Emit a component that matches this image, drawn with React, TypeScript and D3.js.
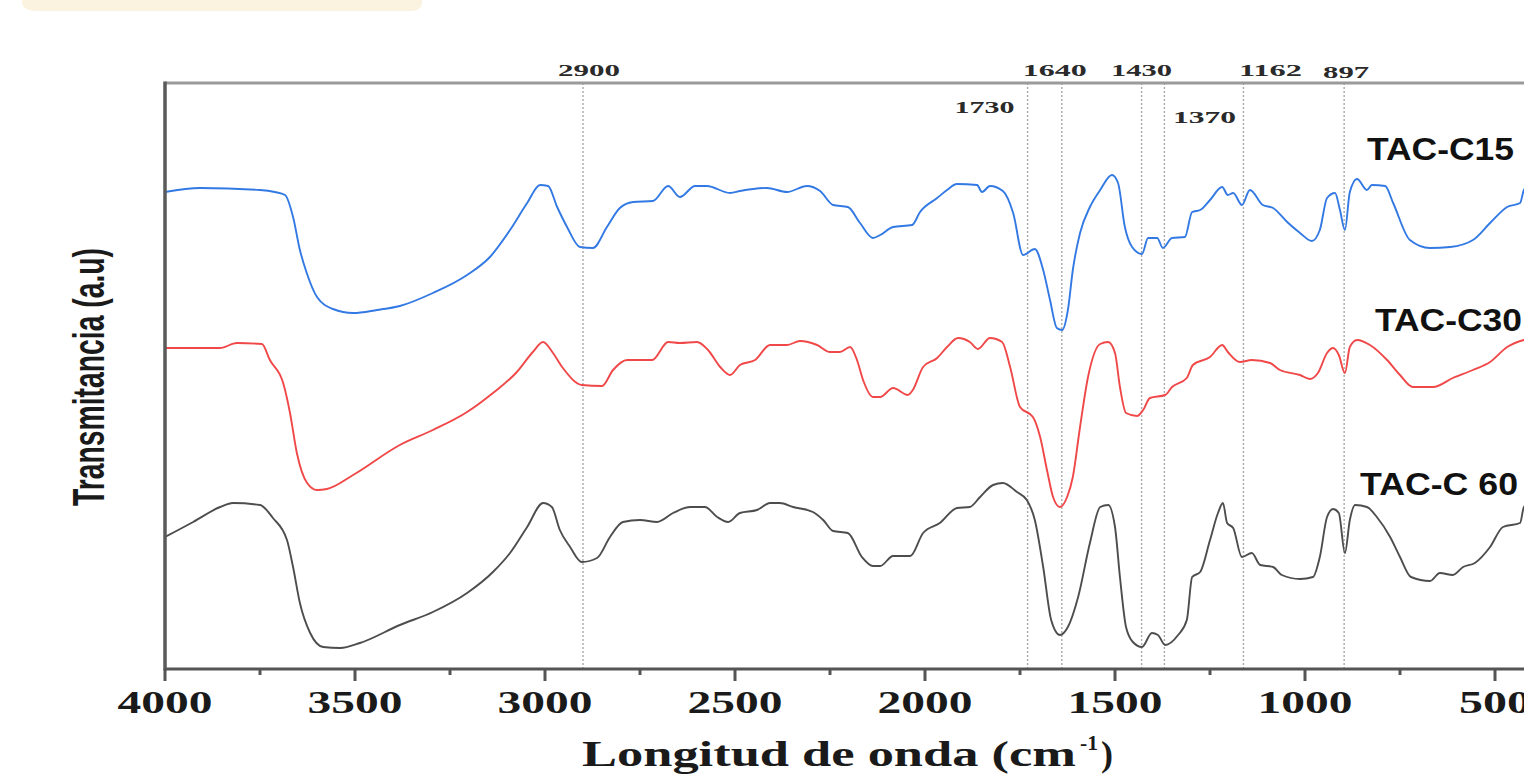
import * as d3 from 'd3';

// FTIR spectra (wavenumber cm-1, transmittance a.u.)
const tacC15: [number, number][] = [
  [4000, 476], [3908, 480], [3750, 478], [3711, 476], [3684, 473], [3663, 451], [3645, 418],
  [3627, 395], [3600, 371], [3558, 359], [3505, 355], [3442, 358], [3382, 362], [3295, 375],
  [3205, 393], [3145, 411], [3092, 438], [3047, 465], [3013, 483], [2992, 482], [2968, 461],
  [2942, 441], [2908, 421], [2874, 420], [2837, 441], [2803, 460], [2768, 466], [2716, 467],
  [2676, 482], [2645, 471], [2605, 482], [2574, 482], [2513, 475], [2487, 477], [2416, 480],
  [2363, 476], [2311, 482], [2276, 477], [2242, 463], [2203, 461], [2171, 445], [2137, 430],
  [2118, 433], [2084, 441], [2034, 443], [2013, 456], [1968, 470], [1942, 478], [1916, 484],
  [1863, 483], [1850, 476], [1829, 482], [1795, 477], [1768, 455], [1742, 413], [1711, 419],
  [1689, 398], [1671, 368], [1653, 340], [1639, 338], [1624, 358], [1611, 398], [1592, 435],
  [1566, 461], [1539, 478], [1508, 493], [1492, 485], [1474, 441], [1455, 421], [1429, 414],
  [1413, 430], [1389, 430], [1374, 420], [1350, 430], [1316, 431], [1297, 456], [1276, 458],
  [1250, 468], [1218, 481], [1203, 473], [1189, 475], [1166, 463], [1145, 478], [1111, 463],
  [1084, 460], [1047, 446], [1013, 435], [982, 427], [961, 438], [942, 470], [921, 475],
  [908, 458], [895, 438], [882, 476], [863, 489], [837, 478], [824, 483], [789, 482],
  [768, 465], [724, 428], [671, 420], [618, 421], [558, 428], [513, 445], [468, 461],
  [434, 465], [424, 478], [400, 488],
];

const tacC30: [number, number][] = [
  [4000, 320], [3855, 320], [3811, 325], [3745, 324], [3724, 308], [3689, 285], [3671, 255],
  [3653, 215], [3626, 185], [3600, 178], [3574, 179], [3505, 193], [3382, 223], [3295, 238],
  [3205, 256], [3137, 275], [3074, 296], [3032, 316], [3005, 326], [2979, 315], [2953, 300],
  [2903, 283], [2850, 282], [2821, 298], [2784, 308], [2718, 308], [2676, 326], [2645, 325],
  [2600, 326], [2571, 318], [2539, 301], [2513, 293], [2487, 303], [2447, 308], [2408, 323],
  [2363, 323], [2329, 327], [2284, 323], [2250, 316], [2224, 316], [2197, 321], [2179, 308],
  [2163, 288], [2137, 271], [2118, 271], [2084, 280], [2045, 273], [2032, 278], [2005, 301],
  [1968, 310], [1942, 321], [1913, 330], [1882, 326], [1861, 319], [1829, 330], [1797, 326],
  [1776, 301], [1750, 261], [1716, 251], [1697, 231], [1679, 198], [1663, 171], [1645, 161],
  [1626, 171], [1611, 191], [1592, 241], [1571, 291], [1539, 324], [1518, 326], [1500, 315],
  [1487, 281], [1471, 255], [1442, 252], [1426, 258], [1408, 270], [1368, 273], [1350, 281],
  [1311, 290], [1295, 303], [1250, 311], [1218, 323], [1203, 316], [1171, 306], [1140, 308],
  [1092, 305], [1066, 298], [1013, 293], [987, 289], [966, 295], [942, 315], [926, 320],
  [911, 313], [895, 295], [882, 321], [863, 328], [829, 323], [784, 308], [750, 293],
  [716, 281], [663, 281], [611, 290], [558, 298], [513, 306], [468, 321], [424, 328], [400, 330],
];

const tacC60: [number, number][] = [
  [4000, 131], [3926, 146], [3855, 161], [3821, 165], [3750, 163], [3716, 150], [3679, 128],
  [3663, 101], [3645, 65], [3618, 35], [3584, 21], [3539, 20], [3487, 25], [3382, 43],
  [3295, 56], [3205, 75], [3137, 96], [3092, 115], [3047, 141], [3005, 165], [2982, 161],
  [2961, 138], [2934, 121], [2903, 106], [2863, 110], [2829, 131], [2795, 146], [2750, 148],
  [2705, 146], [2663, 155], [2618, 161], [2579, 161], [2547, 151], [2518, 146], [2487, 155],
  [2442, 158], [2408, 165], [2382, 165], [2347, 161], [2295, 156], [2268, 148], [2242, 137],
  [2203, 135], [2166, 111], [2137, 102], [2118, 102], [2084, 112], [2039, 112], [2005, 135],
  [1961, 145], [1916, 160], [1882, 161], [1855, 171], [1821, 183], [1795, 185], [1758, 176],
  [1732, 168], [1711, 148], [1689, 101], [1668, 48], [1645, 33], [1624, 41], [1597, 71],
  [1566, 125], [1539, 161], [1518, 163], [1500, 141], [1487, 91], [1471, 41], [1453, 26],
  [1429, 21], [1403, 35], [1387, 33], [1368, 23], [1334, 33], [1311, 48], [1297, 91],
  [1276, 96], [1250, 128], [1229, 155], [1216, 165], [1205, 145], [1189, 140], [1166, 111],
  [1140, 115], [1118, 103], [1084, 101], [1061, 93], [1013, 89], [979, 91], [961, 111],
  [942, 151], [926, 159], [911, 155], [895, 115], [882, 148], [868, 163], [837, 161],
  [811, 151], [776, 131], [750, 111], [721, 91], [671, 87], [645, 95], [611, 93], [584, 101],
  [553, 105], [513, 121], [479, 141], [434, 145], [424, 161], [400, 168],
];

const seriesNames = ['TAC-C15', 'TAC-C30', 'TAC-C 60'];
const seriesData = [tacC15, tacC30, tacC60];
const xTickLabels = [4000, 3500, 3000, 2500, 2000, 1500, 1000, 500];
const peakMarkers = [2900, 1730, 1640, 1430, 1370, 1162, 897];

// styling
const seriesColors = ['#3379e3', '#f04848', '#4d4d4d'];
const seriesLabelPos = [
  { x: 1514, y: 160 },
  { x: 1522, y: 331 },
  { x: 1518, y: 495 },
];
// where each peak label sits relative to its line
const peakLabelPos: Record<number, { dx: number; y: number; w: number }> = {
  2900: { dx: 6, y: 76, w: 62 },
  1730: { dx: -43, y: 113, w: 60 },
  1640: { dx: -7, y: 76, w: 64 },
  1430: { dx: 0, y: 76, w: 61 },
  1370: { dx: 40, y: 123, w: 63 },
  1162: { dx: 27, y: 76, w: 63 },
  897: { dx: 2, y: 78, w: 46 },
};

const W = 1524;
const H = 775;
const margin = { top: 83, left: 165, bottom: 669 };

const App = () => {
  const xScale = d3.scaleLinear().domain([4000, 400]).range([margin.left, margin.left + 3600 * 0.38]);
  const yScale = d3.scaleLinear().domain([0, 585]).range([668, margin.top]);

  const line = d3.line<[number, number]>()
    .x(d => xScale(d[0]))
    .y(d => yScale(d[1]))
    .curve(d3.curveMonotoneX);

  // minor ticks halfway between the labelled ones
  const minorTicks = xTickLabels.map(t => t - 250).filter(t => t > 400);
  const serif = '"Liberation Serif", "DejaVu Serif", serif';
  const sans = '"Liberation Sans Narrow", "Liberation Sans", Arial, sans-serif';
  const xRight = xScale(400);

  return (
    <svg width={W} height={H} style={{ position: 'absolute', left: 0, top: 0, background: '#fff' }}>
      {/* beige strip at top left */}
      <path d="M22,0 H422 V2 Q422,11 410,11 H38 Q22,11 22,2 Z" fill="#fbf3e0" />

      {/* peak guide lines */}
      {peakMarkers.map(p => (
        <line key={'g' + p} x1={xScale(p)} x2={xScale(p)} y1={margin.top} y2={margin.bottom}
          stroke="#a8a8a8" strokeWidth={1.4} strokeDasharray="2,2" />
      ))}

      {/* spectra */}
      {seriesData.map((s, i) => (
        <path key={seriesNames[i]} d={line(s) ?? ''} fill="none" stroke={seriesColors[i]}
          strokeWidth={1.9} strokeLinejoin="round" />
      ))}

      {/* frame */}
      <line x1={margin.left} x2={xRight} y1={margin.top} y2={margin.top} stroke="#9a9a9a" strokeWidth={3} />
      <line x1={margin.left} x2={margin.left} y1={margin.top - 1.5} y2={margin.bottom + 1.5} stroke="#5a5a5a" strokeWidth={3.5} />
      <line x1={margin.left} x2={xRight} y1={margin.bottom} y2={margin.bottom} stroke="#555" strokeWidth={3} />

      {/* x ticks */}
      {xTickLabels.map(t => (
        <g key={'t' + t}>
          <line x1={xScale(t)} x2={xScale(t)} y1={margin.bottom} y2={margin.bottom + 12} stroke="#555" strokeWidth={3} />
          <text x={xScale(t)} y={713} textAnchor="middle" fontFamily={serif} fontWeight="bold" fontSize={31}
            fill="#1a1a1a" textLength={t >= 1000 ? 95 : 72} lengthAdjust="spacingAndGlyphs">{t}</text>
        </g>
      ))}
      {minorTicks.map(t => (
        <line key={'m' + t} x1={xScale(t)} x2={xScale(t)} y1={margin.bottom} y2={margin.bottom + 6} stroke="#555" strokeWidth={3} />
      ))}

      {/* peak labels */}
      {peakMarkers.map(p => {
        const pos = peakLabelPos[p];
        return (
          <text key={'pl' + p} x={xScale(p) + pos.dx} y={pos.y} textAnchor="middle" fontFamily={serif}
            fontWeight="bold" fontSize={17} fill="#2a2a2a" textLength={pos.w} lengthAdjust="spacingAndGlyphs">{p}</text>
        );
      })}

      {/* series labels */}
      {seriesNames.map((n, i) => (
        <text key={'sl' + n} x={seriesLabelPos[i].x} y={seriesLabelPos[i].y} textAnchor="end"
          fontFamily='"Liberation Sans", Arial, sans-serif' fontWeight="bold" fontSize={32} fill="#111"
          textLength={i === 2 ? 158 : 147} lengthAdjust="spacingAndGlyphs">{n}</text>
      ))}

      {/* axis titles */}
      <text transform="translate(104,377) rotate(-90)" textAnchor="middle" fontFamily={sans} fontWeight="bold"
        fontSize={44} fill="#1a1a1a" textLength={258} lengthAdjust="spacingAndGlyphs">Transmitancia (a.u)</text>

      <text x={582} y={766} fontFamily={serif} fontWeight="bold" fontSize={36} fill="#1a1a1a"
        textLength={494} lengthAdjust="spacingAndGlyphs">Longitud de onda (cm</text>
      <text x={1080} y={750} fontFamily={serif} fontWeight="bold" fontSize={20} fill="#1a1a1a"
        textLength={18} lengthAdjust="spacingAndGlyphs">-1</text>
      <text x={1101} y={766} fontFamily={serif} fontWeight="bold" fontSize={36} fill="#1a1a1a">)</text>
    </svg>
  );
};

export default App;
